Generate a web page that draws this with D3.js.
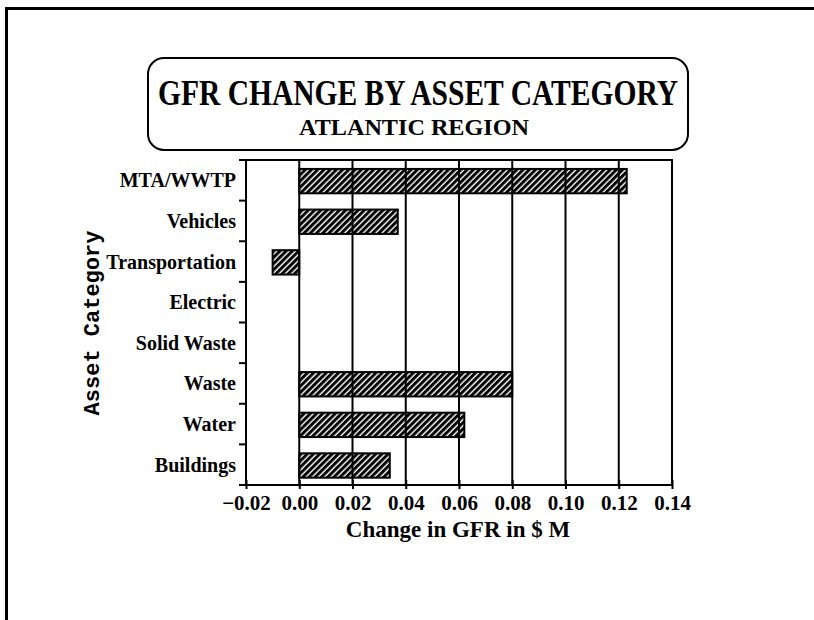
<!DOCTYPE html>
<html>
<head>
<meta charset="utf-8">
<script src="https://cdn.jsdelivr.net/npm/d3@7"></script>
<style>
  body { margin: 0; background: #fff; }
  svg { display: block; }
</style>
</head>
<body>
<div id="chart"></div>
<script>
// data
const categories = ["MTA/WWTP", "Vehicles", "Transportation", "Electric", "Solid Waste", "Waste", "Water", "Buildings"];
const values = [0.123, 0.037, -0.010, 0, 0, 0.080, 0.062, 0.034];
const xTicks = [-0.02, 0, 0.02, 0.04, 0.06, 0.08, 0.10, 0.12, 0.14];
const gridTicks = [0, 0.02, 0.04, 0.06, 0.08, 0.10, 0.12];

const W = 814, H = 620;
const plot = {left: 246, right: 672, top: 160, bottom: 485};
const serif = "'Liberation Serif', 'Times New Roman', serif";

const svg = d3.select("#chart").append("svg")
    .attr("width", W)
    .attr("height", H);

// hatch pattern
svg.append("defs").append("pattern")
    .attr("id", "hatch")
    .attr("patternUnits", "userSpaceOnUse")
    .attr("width", 4.4)
    .attr("height", 4.4)
    .attr("patternTransform", "rotate(45)")
    .append("rect")
    .attr("x", 0).attr("y", 0)
    .attr("width", 3).attr("height", 4.4)
    .attr("fill", "#000");

// page frame
svg.append("path")
    .attr("d", `M6.5,${H} L6.5,8.5 L${W},8.5`)
    .attr("fill", "none")
    .attr("stroke", "#000")
    .attr("stroke-width", 3);

// title box
svg.append("rect")
    .attr("x", 148).attr("y", 58)
    .attr("width", 540).attr("height", 92)
    .attr("rx", 16).attr("ry", 16)
    .attr("fill", "none")
    .attr("stroke", "#000")
    .attr("stroke-width", 2);

svg.append("text")
    .attr("x", 418).attr("y", 105)
    .attr("text-anchor", "middle")
    .attr("font-family", serif)
    .attr("font-weight", "bold")
    .attr("font-size", 35)
    .attr("textLength", 520)
    .attr("lengthAdjust", "spacingAndGlyphs")
    .style("fill", "#000")
    .text("GFR CHANGE BY ASSET CATEGORY");

svg.append("text")
    .attr("x", 414).attr("y", 135)
    .attr("text-anchor", "middle")
    .attr("font-family", serif)
    .attr("font-weight", "bold")
    .attr("font-size", 24)
    .attr("textLength", 230)
    .attr("lengthAdjust", "spacingAndGlyphs")
    .style("fill", "#000")
    .text("ATLANTIC REGION");

// scales
const x = d3.scaleLinear()
    .domain([-0.02, 0.14])
    .range([plot.left, plot.right]);

const y = d3.scaleBand()
    .domain(categories)
    .range([plot.top, plot.bottom]);

const step = y.step();

// bars
svg.append("g")
    .selectAll("rect")
    .data(categories.map((c, i) => ({cat: c, val: values[i]})).filter(d => d.val !== 0))
    .enter().append("rect")
    .attr("x", d => Math.min(x(0), x(d.val)))
    .attr("y", d => y(d.cat) + step * 0.22)
    .attr("width", d => Math.abs(x(d.val) - x(0)))
    .attr("height", step * 0.6)
    .attr("fill", "url(#hatch)")
    .attr("stroke", "#000")
    .attr("stroke-width", 2);

// vertical grid lines
svg.append("g")
    .selectAll("line")
    .data(gridTicks)
    .enter().append("line")
    .attr("x1", d => x(d)).attr("x2", d => x(d))
    .attr("y1", plot.top).attr("y2", plot.bottom)
    .attr("stroke", "#000")
    .attr("stroke-width", 2);

// plot frame: top, right, left
svg.append("path")
    .attr("d", `M${plot.left - 7},${plot.top} L${plot.right},${plot.top} L${plot.right},${plot.bottom} M${plot.left},${plot.top} L${plot.left},${plot.bottom}`)
    .attr("fill", "none")
    .attr("stroke", "#000")
    .attr("stroke-width", 2);

// y ticks at category boundaries
const yBounds = categories.map(c => y(c)).concat([plot.bottom]);
svg.append("g")
    .selectAll("line")
    .data(yBounds)
    .enter().append("line")
    .attr("x1", plot.left - 7).attr("x2", plot.left)
    .attr("y1", d => d).attr("y2", d => d)
    .attr("stroke", "#000")
    .attr("stroke-width", 2);

// y labels
svg.append("g")
    .selectAll("text")
    .data(categories)
    .enter().append("text")
    .attr("x", 236)
    .attr("y", d => y(d) + step / 2 + 7)
    .attr("text-anchor", "end")
    .attr("font-family", serif)
    .attr("font-weight", "bold")
    .attr("font-size", 20)
    .style("fill", "#000")
    .text(d => d);

// x axis
const xAxis = svg.append("g")
    .attr("transform", `translate(0, ${plot.bottom})`)
    .call(d3.axisBottom(x).tickValues(xTicks).tickSize(5).tickSizeOuter(0).tickFormat(d3.format(".2f")));

xAxis.select(".domain")
    .attr("d", `M${plot.left - 7},0H${plot.right}`)
    .attr("stroke-width", 2);

xAxis.selectAll(".tick line")
    .attr("y1", -5).attr("y2", 4)
    .attr("stroke-width", 2);

xAxis.selectAll(".tick text")
    .attr("y", 10)
    .attr("dy", "0.71em")
    .attr("font-family", serif)
    .attr("font-weight", "bold")
    .attr("font-size", 21)
    .style("fill", "#000");

// axis titles
svg.append("text")
    .attr("x", 458).attr("y", 537)
    .attr("text-anchor", "middle")
    .attr("font-family", serif)
    .attr("font-weight", "bold")
    .attr("font-size", 23)
    .style("fill", "#000")
    .text("Change in GFR in $ M");

svg.append("text")
    .attr("transform", "translate(99, 323) rotate(-90)")
    .attr("text-anchor", "middle")
    .attr("font-family", "'Liberation Mono', 'DejaVu Sans Mono', monospace")
    .attr("font-weight", "bold")
    .attr("font-size", 22)
    .style("fill", "#000")
    .text("Asset Category");
</script>
</body>
</html>
